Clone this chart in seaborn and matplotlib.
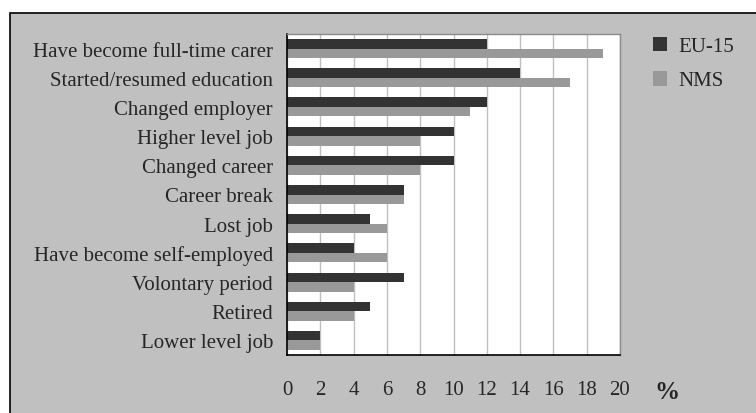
import pandas as pd
import numpy as np
import matplotlib
matplotlib.use('Agg')
import matplotlib.pyplot as plt
from matplotlib.patches import Rectangle
from matplotlib.ticker import MultipleLocator
import seaborn as sns

# Data
categories = ['Have become full-time carer', 'Started/resumed education', 'Changed employer',
              'Higher level job', 'Changed career', 'Career break', 'Lost job',
              'Have become self-employed', 'Volontary period', 'Retired', 'Lower level job']
eu15 = [12, 14, 12, 10, 10, 7, 5, 4, 7, 5, 2]
nms = [19, 17, 11, 8, 8, 7, 6, 6, 4, 4, 2]
series = ['EU-15', 'NMS']
colors = ['#333333', '#999999']

df = pd.DataFrame({
    'category': categories * 2,
    'value': eu15 + nms,
    'group': [series[0]] * len(categories) + [series[1]] * len(categories),
})

sns.set_style('white')
plt.rcParams['font.family'] = ['Liberation Serif', 'DejaVu Serif']

fig = plt.figure(figsize=(7.56, 4.14), dpi=100)
fig.patch.set_facecolor('white')
# gray panel with black top/left border
bg = Rectangle((10 / 756, -0.2), 1.2, (414 - 14) / 414 + 0.2, transform=fig.transFigure,
               facecolor='#c0c0c0', edgecolor='black', linewidth=1.2, zorder=-10)
fig.patches.append(bg)

ax = fig.add_axes([287 / 756, 1 - 356 / 414, (620 - 287) / 756, (356 - 35) / 414])
ax.set_facecolor('white')

sns.barplot(data=df, y='category', x='value', hue='group', palette=colors,
            orient='h', width=0.65, gap=0, saturation=1, ax=ax, edgecolor='none')

ax.set_xlim(0, 20)
ax.set_ylim(len(categories) - 0.5, -0.5)
ax.xaxis.set_major_locator(MultipleLocator(2))
ax.grid(axis='x', color='#c0c0c0', linewidth=1)
ax.set_axisbelow(True)
ax.set_xlabel('')
ax.set_ylabel('')

# category ticks at the band boundaries
ax.set_yticks(np.arange(len(categories)))
ax.set_yticklabels(categories)
ax.set_yticks(np.arange(len(categories) + 1) - 0.5, minor=True)
ax.tick_params(axis='y', which='major', length=0, pad=10, labelsize=15)
ax.tick_params(axis='y', which='minor', length=5, width=1, color='black', direction='out')
ax.tick_params(axis='x', which='major', length=5, width=1, color='black', direction='out',
               pad=13, labelsize=15)

for side in ['left', 'bottom']:
    ax.spines[side].set_color('black')
    ax.spines[side].set_linewidth(1.2)
for side in ['top', 'right']:
    ax.spines[side].set_color('#8a8a8a')
    ax.spines[side].set_linewidth(1)

fig.text(667 / 756, 1 - 393 / 414, '%', fontsize=18, fontweight='bold', ha='center', va='center')

sns.move_legend(ax, 'upper left', bbox_to_anchor=(634 / 756, 1 - 19 / 414),
                bbox_transform=fig.transFigure, frameon=False, title=None,
                fontsize=15, handlelength=0.7, handleheight=0.7, handletextpad=0.55,
                labelspacing=0.7)

fig.savefig('out.png', dpi=100)
